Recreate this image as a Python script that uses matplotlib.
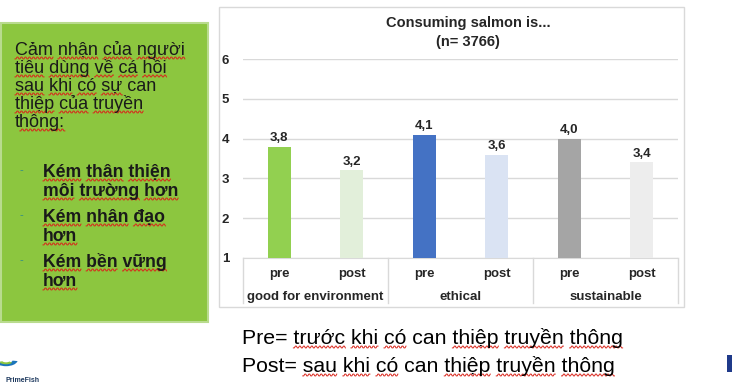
import matplotlib
matplotlib.use("Agg")
import matplotlib.pyplot as plt
from matplotlib.patches import Rectangle, Wedge
from matplotlib.lines import Line2D
from matplotlib.font_manager import FontProperties
import numpy as np

plt.rcParams['font.family'] = ['Liberation Sans', 'DejaVu Sans']

# data
groups = ['good for environment', 'ethical', 'sustainable']
phases = ['pre', 'post']
values = [3.8, 3.2, 4.1, 3.6, 4.0, 3.4]
value_labels = ['3,8', '3,2', '4,1', '3,6', '4,0', '3,4']
bar_colors = ['#92D050', '#E2EFDA', '#4472C4', '#DAE3F3', '#A5A5A5', '#EDEDED']
yticks = [1, 2, 3, 4, 5, 6]

W, H = 732, 387
fig = plt.figure(figsize=(W / 100, H / 100), dpi=100)
fig.patch.set_facecolor('white')
renderer = fig.canvas.get_renderer()


def fx(px):
    return px / W


def fy(py):
    return 1 - py / H


def text_w(s, prop):
    w, _, _ = renderer.get_text_width_height_descent(s, prop, ismath=False)
    return w


def put_line(x0, base, line, size, weight='normal', skip=(), color='#1A1A1A'):
    # write a line and draw spell-check style wavy underlines under its words
    fig.text(fx(x0), fy(base), line, fontsize=size, fontweight=weight, color=color,
             va='baseline')
    prop = FontProperties(family=['Liberation Sans', 'DejaVu Sans'], size=size, weight=weight)
    pos = 0
    for word in line.split(' '):
        start = line.index(word, pos)
        end = start + len(word)
        pos = end
        if word.rstrip(':') in skip or word.endswith('='):
            continue
        x_end = x0 + text_w(line[:end], prop)
        x_start = x_end - text_w(word.rstrip(':'), prop)
        if word.endswith(':'):
            x_end = x_start + text_w(word[:-1], prop)
        xs = np.arange(x_start, x_end + 0.5, 1.0)
        ys = base + 3 + 0.9 * np.where(np.arange(len(xs)) % 4 < 2, 1, -1)
        fig.add_artist(Line2D(fx(xs), fy(ys), color='#D9261C', lw=0.7))


# green text box on the left
fig.patches.append(Rectangle((fx(1), fy(322)), fx(207), 299 / H, transform=fig.transFigure,
                             facecolor='#8CC63F', edgecolor='#B9DB8E', lw=1.5, zorder=0))
intro = ['Cảm nhận của người', 'tiêu dùng về cá hồi', 'sau khi có sự can',
         'thiệp của truyền', 'thông:']
for i, line in enumerate(intro):
    put_line(15, 55 + i * 18, line, 13, skip=('can',))
bullets = [['Kém thân thiện', 'môi trường hơn'], ['Kém nhân đạo', 'hơn'], ['Kém bền vững', 'hơn']]
by = 177
for b in bullets:
    fig.text(fx(19), fy(by - 4), '-', fontsize=8, color='#2E8B8B', va='baseline')
    for j, line in enumerate(b):
        put_line(43, by + j * 19, line, 12.7, weight='bold')
    by += 45

# chart frame
fig.patches.append(Rectangle((fx(219), fy(307)), fx(465), 300 / H, transform=fig.transFigure,
                             facecolor='white', edgecolor='#D9D9D9', lw=1, zorder=0))

ax = fig.add_axes([fx(243), fy(258), fx(435), 199 / H])
ax.set_zorder(3)
x = np.arange(len(values))
ax.bar(x, values, width=0.32, color=bar_colors, zorder=3)
ax.set_xlim(-0.5, len(values) - 0.5)
ax.set_ylim(1, 6)
ax.set_yticks(yticks)
ax.set_yticklabels([str(t) for t in yticks], fontsize=9.5, fontweight='bold', color='#262626')
ax.tick_params(axis='y', length=0, pad=10)
ax.set_xticks([])
ax.grid(axis='y', color='#D9D9D9', lw=1, zorder=0)
for s in ['left', 'right', 'top']:
    ax.spines[s].set_visible(False)
ax.spines['bottom'].set_color('#D9D9D9')
ax.set_facecolor('none')

for xi, v, lab in zip(x, values, value_labels):
    ax.annotate(lab, (xi, v), xytext=(0, 2), textcoords='offset points', ha='center',
                va='bottom', fontsize=9.5, fontweight='bold', color='#262626')

trans = ax.get_xaxis_transform()
for i in range(len(values)):
    ax.text(i, -0.08, phases[i % 2], transform=trans, ha='center', va='center',
            fontsize=9.5, fontweight='bold', color='#262626')
for g, name in enumerate(groups):
    ax.text(2 * g + 0.5, -0.196, name, transform=trans, ha='center', va='center',
            fontsize=9.5, fontweight='bold', color='#262626')
for b in np.arange(len(groups) + 1) * 2 - 0.5:
    ax.plot([b, b], [0, -0.226], transform=trans, color='#D9D9D9', lw=1, clip_on=False)

fig.text(fx(468), fy(23), 'Consuming salmon is...', ha='center', va='center',
         fontsize=10.5, fontweight='bold', color='#262626')
fig.text(fx(468), fy(42), '(n= 3766)', ha='center', va='center',
         fontsize=10.5, fontweight='bold', color='#262626')

# legend text below the chart
put_line(242, 344, 'Pre= trước khi có can thiệp truyền thông', 15.3, skip=('can',),
         color='black')
put_line(242, 372, 'Post= sau khi có can thiệp truyền thông', 15.3, skip=('can',),
         color='black')

# small logo bottom-left
fig.patches.append(Wedge((fx(6), fy(360)), 0.016, 190, 350, width=0.007,
                         transform=fig.transFigure, facecolor='#1B75BB'))
fig.patches.append(Wedge((fx(6), fy(360)), 0.011, 210, 320, width=0.005,
                         transform=fig.transFigure, facecolor='#8CC63F'))
fig.text(fx(5), fy(380), 'PrimeFish', fontsize=5, fontweight='bold', color='#1F3A5F',
         va='center')
fig.patches.append(Rectangle((fx(727), fy(372)), fx(5), 17 / H, transform=fig.transFigure,
                             facecolor='#1F3A8A', edgecolor='none'))

fig.savefig('out.png', dpi=100)
